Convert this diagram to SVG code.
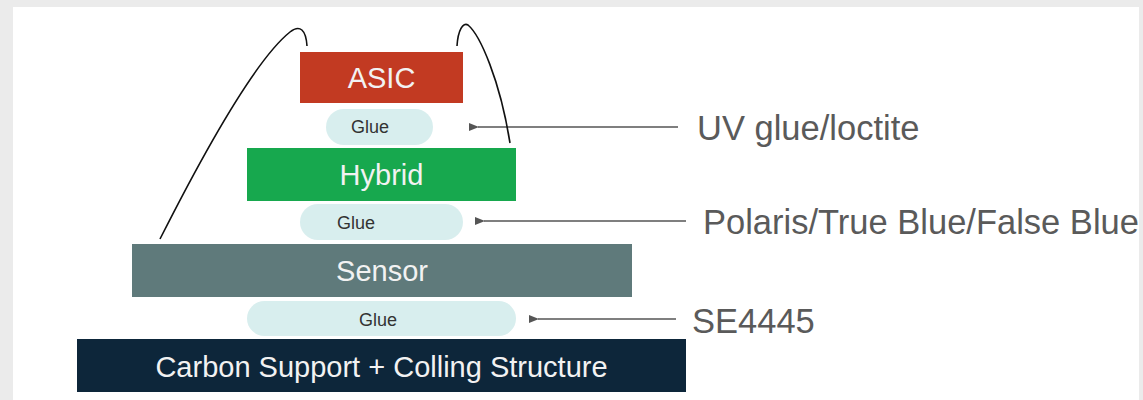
<svg xmlns="http://www.w3.org/2000/svg" width="1143" height="400" viewBox="0 0 1143 400">
<style>
.blk{font-family:"Liberation Sans",Arial,sans-serif;font-size:29px;fill:#f2f2f2;text-anchor:middle}
.glue{fill:#d8eeee}
.gt{font-family:"Liberation Sans",Arial,sans-serif;font-size:18px;fill:#333;text-anchor:middle}
.lbl{font-family:"Liberation Sans",Arial,sans-serif;font-size:34.5px;fill:#5a5a5a}
.conn{stroke:#555;stroke-width:1.6;fill:none}
.wire{stroke:#111;stroke-width:1.6;fill:none}
</style>
<defs>
<marker id="ah" viewBox="0 0 10 8" refX="1" refY="4" markerWidth="10" markerHeight="8" markerUnits="userSpaceOnUse" orient="auto">
<path d="M10,0 L0,4 L10,8 Z" fill="#555"/>
</marker>
</defs>
<rect x="0" y="0" width="1143" height="400" fill="#ebebeb"/>
<rect x="13" y="7" width="1126" height="393" fill="#ffffff"/>
<g id="asic"><rect x="300" y="52" width="163" height="51" fill="#c23a22"/><text class="blk" x="381.5" y="88">ASIC</text></g>
<g id="glue1"><rect class="glue" x="326" y="109" width="107" height="36" rx="18"/><text class="gt" x="370" y="133">Glue</text></g>
<g id="hybrid"><rect x="247" y="148" width="269" height="53" fill="#17a84e"/><text class="blk" x="381.5" y="185">Hybrid</text></g>
<g id="glue2"><rect class="glue" x="300" y="204" width="163" height="36" rx="18"/><text class="gt" x="356" y="229">Glue</text></g>
<g id="sensor"><rect x="132" y="244" width="500" height="53" fill="#5f7a7b"/><text class="blk" x="382" y="281">Sensor</text></g>
<g id="glue3"><rect class="glue" x="247" y="301" width="269" height="35" rx="17.5"/><text class="gt" x="378" y="326">Glue</text></g>
<g id="carbon"><rect x="77" y="339" width="609" height="53" fill="#0d263a"/><text class="blk" x="381.5" y="377">Carbon Support + Colling Structure</text></g>
<g id="labels">
<text class="lbl" x="697" y="140">UV glue/loctite</text>
<text class="lbl" x="703" y="234">Polaris/True Blue/False Blue</text>
<text class="lbl" x="692" y="333">SE4445</text>
</g>
<g id="connectors">
<line class="conn" x1="678" y1="127" x2="478" y2="127" marker-end="url(#ah)"/>
<line class="conn" x1="686" y1="221" x2="484" y2="221" marker-end="url(#ah)"/>
<line class="conn" x1="676" y1="319" x2="538" y2="319" marker-end="url(#ah)"/>
<path class="wire" d="M160,239 C205,150 255,60 290,32 C300,24 306,30 307,46"/>
<path class="wire" d="M457,46 C458,30 463,22 468,25 C480,35 500,80 510,143"/>
</g>
</svg>
